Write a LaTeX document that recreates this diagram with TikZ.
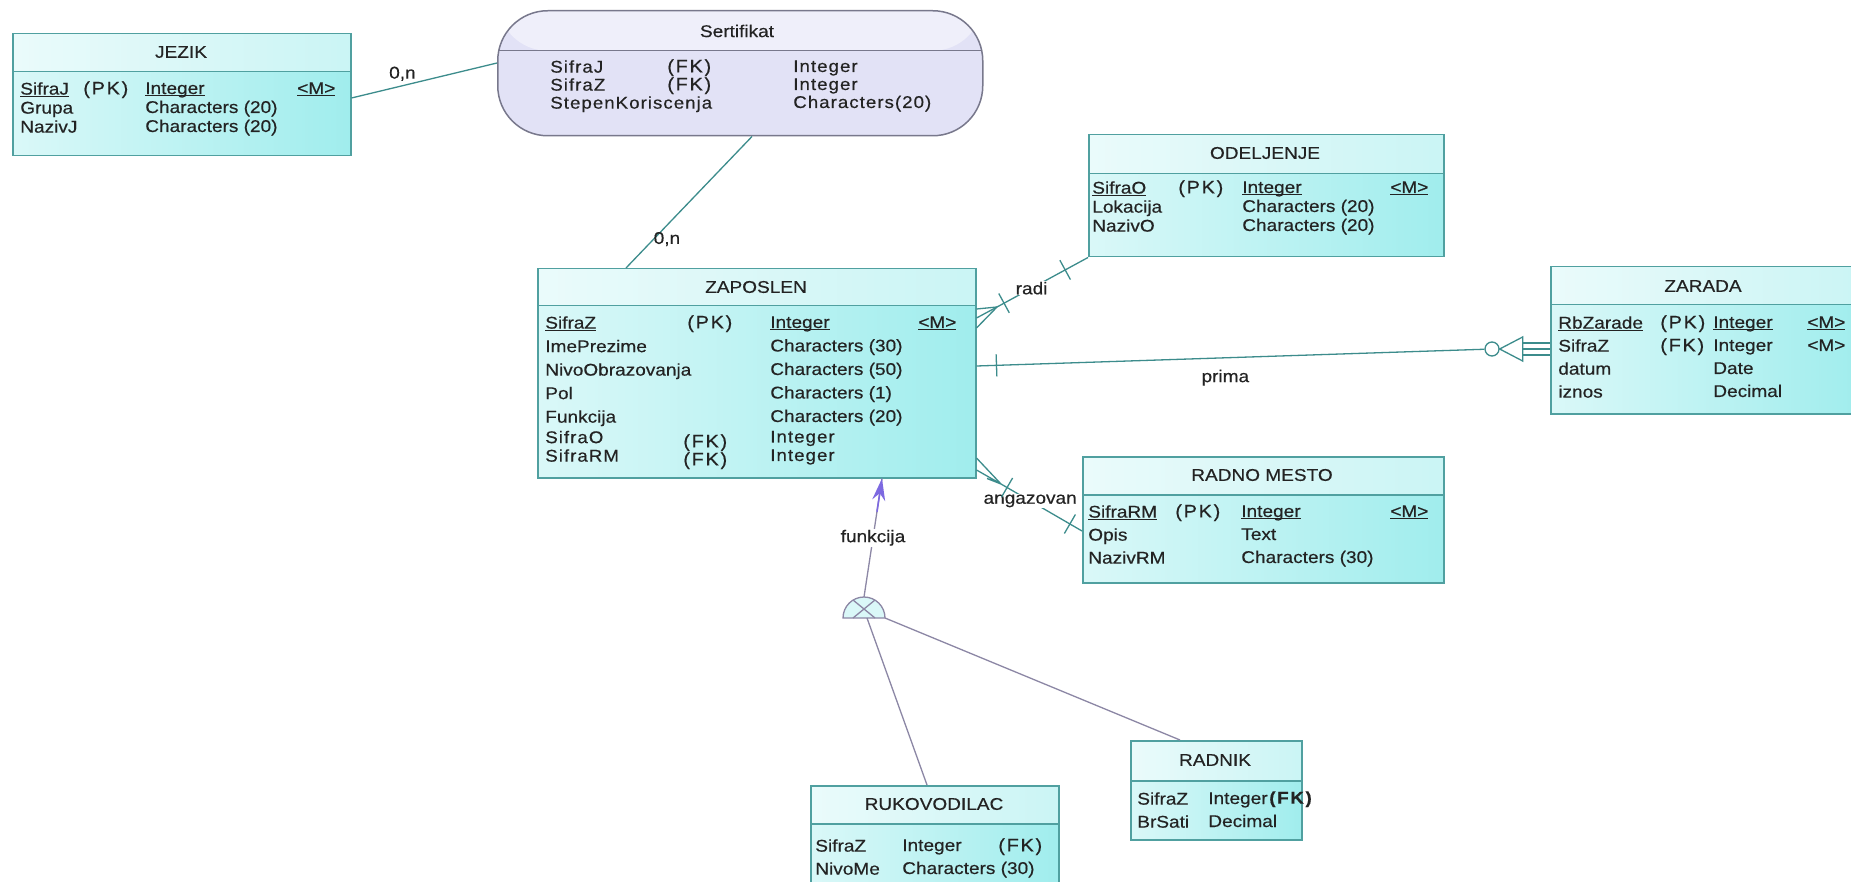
\documentclass[tikz,border=0pt]{standalone}
\usepackage{fontspec}
\setmainfont[FakeStretch=1.12,FakeBold=0.4]{Liberation Sans}
\newfontfamily\keyfont[FakeStretch=1.1,LetterSpace=10,FakeBold=0.6]{Liberation Sans}
\newfontfamily\spfont[FakeStretch=1.1,LetterSpace=6,FakeBold=0.4]{Liberation Sans}
\usetikzlibrary{arrows,arrows.meta,positioning,calc}

\definecolor{ebord}{RGB}{80,160,160}
\definecolor{ecyanA}{RGB}{218,248,248}
\definecolor{ecyanB}{RGB}{160,237,237}
\definecolor{erel}{RGB}{60,140,140}
\definecolor{etext}{RGB}{35,35,35}
\definecolor{sfill}{RGB}{226,226,246}
\definecolor{sbord}{RGB}{120,120,140}
\definecolor{einh}{RGB}{140,135,165}
\definecolor{earr}{RGB}{125,105,225}

\newcommand{\ul}[1]{\underline{\raisebox{0pt}[\height][0pt]{#1}}}
\newcommand{\tick}[2]{\draw[rel] ($(#1)!11pt!90:(#2)$) -- ($(#1)!11pt!-90:(#2)$);}

\tikzset{band/.style 2 args={path picture={
  \fill[white,opacity=.45] (path picture bounding box.north west) rectangle ([yshift=-#1]path picture bounding box.north east);
  \draw[#2, line width=1.5pt] ([yshift=-#1]path picture bounding box.north west) -- ([yshift=-#1]path picture bounding box.north east);}}}

\begin{document}
\begin{tikzpicture}[x=1pt, y=-1pt, >=stealth', semithick, font=\fontsize{17}{21}\selectfont, text=etext]
\tikzstyle{entity}=[draw=ebord, line width=1.5pt, left color=ecyanA, right color=ecyanB, inner sep=0, anchor=north west]
\tikzstyle{relship}=[draw=sbord, line width=1.5pt, fill=sfill, rounded corners=50pt, inner sep=0, anchor=north west]
\tikzstyle{col}=[anchor=north west, align=left, inner sep=0]
\tikzstyle{key}=[col, font=\keyfont\fontsize{18}{21}\selectfont]
\tikzstyle{rel}=[draw=erel, line width=1.3pt]
\tikzstyle{inhl}=[draw=einh, line width=1.3pt]
\tikzstyle{lab}=[fill=white, inner sep=1pt]

\fill[white] (0,0) rectangle (1851,882);
\useasboundingbox (0,0) rectangle (1851,882);

\node[entity, band={38pt}{ebord}, minimum width=338pt, minimum height=122pt] (jezik) at (12,33) {};
\node (jezikT) at (181,52) {JEZIK};
\node[col, font=\fontsize{17}{19}\selectfont] (jezikA) at (20,82) {\ul{SifraJ}\\Grupa\\NazivJ};
\node[key] (jezikK) at (83,81) {(PK)};
\node[col, font=\fontsize{17}{19}\selectfont] (jezikB) at (145,82) {\ul{Integer}\\Characters (20)\\Characters (20)};
\node[col] (jezikM) at (297,82) {\ul{<M>}};

\node[relship, band={40pt}{sbord}, minimum width=485pt, minimum height=125pt] (sert) at (497,10) {};
\node (sertT) at (737,31) {Sertifikat};
\node[col, font=\spfont\fontsize{17}{18}\selectfont] (sertA) at (550,60) {SifraJ\\SifraZ\\StepenKoriscenja};
\node[key, font=\keyfont\fontsize{18}{18}\selectfont] (sertK) at (667,59) {(FK)\\(FK)};
\node[col, font=\spfont\fontsize{17}{18}\selectfont] (sertB) at (793,60) {Integer\\Integer\\Characters(20)};

\node[entity, band={39pt}{ebord}, minimum width=355pt, minimum height=122pt] (ode) at (1088,134) {};
\node (odeT) at (1265,153) {ODELJENJE};
\node[col, font=\fontsize{17}{19}\selectfont] (odeA) at (1092,181) {\ul{SifraO}\\Lokacija\\NazivO};
\node[key] (odeK) at (1178,180) {(PK)};
\node[col, font=\fontsize{17}{19}\selectfont] (odeB) at (1242,181) {\ul{Integer}\\Characters (20)\\Characters (20)};
\node[col] (odeM) at (1390,181) {\ul{<M>}};

\node[entity, band={37pt}{ebord}, minimum width=438pt, minimum height=209pt] (zap) at (537,268) {};
\node (zapT) at (756,287) {ZAPOSLEN};
\node[col, font=\fontsize{17}{23.5}\selectfont] (zapA) at (545,316) {\ul{SifraZ}\\ImePrezime\\NivoObrazovanja\\Pol\\Funkcija\\[-3pt]{\spfont SifraO}\\[-5pt]{\spfont SifraRM}};
\node[key] (zapK) at (687,315) {(PK)};
\node[key, font=\keyfont\fontsize{18}{18}\selectfont] (zapF) at (683,434) {(FK)\\(FK)};
\node[col, font=\fontsize{17}{23.5}\selectfont] (zapB) at (770,316) {\ul{Integer}\\Characters (30)\\Characters (50)\\Characters (1)\\Characters (20)\\[-3pt]{\spfont Integer}\\[-5pt]{\spfont Integer}};
\node[col] (zapM) at (918,316) {\ul{<M>}};

\node[entity, band={38pt}{ebord}, minimum width=310pt, minimum height=147pt] (zar) at (1550,266) {};
\node (zarT) at (1703,286) {ZARADA};
\node[col, font=\fontsize{17}{23}\selectfont] (zarA) at (1558,316) {\ul{RbZarade}\\SifraZ\\datum\\iznos};
\node[key, font=\keyfont\fontsize{18}{23}\selectfont] (zarK) at (1660,315) {(PK)\\(FK)};
\node[col, font=\fontsize{17}{23}\selectfont] (zarB) at (1713,316) {\ul{Integer}\\Integer\\Date\\Decimal};
\node[col, font=\fontsize{17}{23}\selectfont] (zarM) at (1807,316) {\ul{<M>}\\<M>};

\node[entity, band={38pt}{ebord}, minimum width=361pt, minimum height=126pt] (rm) at (1082,456) {};
\node (rmT) at (1262,475) {RADNO MESTO};
\node[col, font=\fontsize{17}{23}\selectfont] (rmA) at (1088,505) {\ul{SifraRM}\\Opis\\NazivRM};
\node[key] (rmK) at (1175,504) {(PK)};
\node[col, font=\fontsize{17}{23}\selectfont] (rmB) at (1241,505) {\ul{Integer}\\Text\\Characters (30)};
\node[col] (rmM) at (1390,505) {\ul{<M>}};

\node[entity, band={38pt}{ebord}, minimum width=248pt, minimum height=97pt] (ruk) at (810,785) {};
\node (rukT) at (934,804) {RUKOVODILAC};
\node[col, font=\fontsize{17}{23}\selectfont] (rukA) at (815,839) {SifraZ\\NivoMe};
\node[col, font=\fontsize{17}{23}\selectfont] (rukB) at (902,839) {Integer\\Characters (30)};
\node[key] (rukK) at (998,838) {(FK)};

\node[entity, band={40pt}{ebord}, minimum width=171pt, minimum height=99pt] (rad) at (1130,740) {};
\node (radT) at (1215,760) {RADNIK};
\node[col, font=\fontsize{17}{23}\selectfont] (radA) at (1137,792) {SifraZ\\BrSati};
\node[col, font=\fontsize{17}{23}\selectfont] (radB) at (1208,792) {Integer\\Decimal};
\node[key, font=\keyfont\bfseries\fontsize{17}{21}\selectfont] (radK) at (1269,791) {(FK)};

\coordinate (jzE) at (jezik.east |- 0,98);
\coordinate (stW) at (sert.west |- 0,63);
\draw[rel] (jzE) -- node[pos=.35, above=1pt]{0,n} (stW);
\coordinate (stS) at (752,0 |- sert.south);
\coordinate (zpN) at (626,0 |- zap.north);
\draw[rel] (stS) -- node[pos=.78, right=-4pt]{0,n} (zpN);

\coordinate (radiA) at (997,307);
\draw[rel] (ode.south west) -- node[lab, pos=.62]{radi} (radiA);
\foreach \y in {309,318,328} \draw[rel] (radiA) -- (zap.east |- 0,\y);
\coordinate (radiB) at ($(radiA)!8pt!(ode.south west)$);
\coordinate (radiC) at ($(ode.south west)!26pt!(radiA)$);
\tick{radiB}{ode.south west}
\tick{radiC}{ode.south west}

\node[circle, draw=erel, line width=1.3pt, fill=white, minimum size=14pt, inner sep=0] (primaO) at (1492,349) {};
\coordinate (primaS) at (zap.east |- 0,366);
\draw[rel] (primaS) -- node[pos=.49, below=8pt]{prima} (primaO);
\draw[rel] (primaO.east) -- ++(23,-12) -- ++(0,24) -- cycle;
\foreach \y in {343,349,355} \draw[rel] (1523,\y) -- (zar.west |- 0,\y);
\coordinate (primaB) at ($(primaS)!20pt!(primaO)$);
\tick{primaB}{primaO}

\coordinate (angA) at (1001,484);
\coordinate (angE) at (rm.west |- 0,531);
\draw[rel] (angE) -- node[lab, pos=.64]{angazovan} (angA);
\draw[rel] (angA) -- (zap.east |- 0,458) (angA) -- (zap.east |- 0,470) (angA) -- (987,0 |- zap.south);
\coordinate (angB) at ($(angA)!7pt!(angE)$);
\coordinate (angC) at ($(angE)!14pt!(angA)$);
\tick{angB}{angE}
\tick{angC}{angE}

\coordinate (inh) at (864,618);
\draw[inhl, fill=ecyanA] ($(inh)+(-21,0)$) arc[start angle=180, end angle=360, radius=21] -- cycle;
\draw[inhl] ($(inh)+(-11,-18)$) -- ($(inh)+(11,0)$) ($(inh)+(-11,0)$) -- ($(inh)+(11,-18)$);
\coordinate (inhT) at ($(inh)+(0,-21)$);
\coordinate (zapIn) at (882,0 |- zap.south);
\draw[inhl] (inhT) -- node[lab]{funkcija} (zapIn);
\draw[earr, line width=1.6pt, -{Stealth[length=22pt, width=13pt]}] ($(inhT)!.72!(zapIn)$) -- (zapIn);
\draw[inhl] ($(inh)+(3,0)$) -- (927,0 |- ruk.north);
\draw[inhl] ($(inh)+(21,0)$) -- (1180,0 |- rad.north);
\end{tikzpicture}
\end{document}
